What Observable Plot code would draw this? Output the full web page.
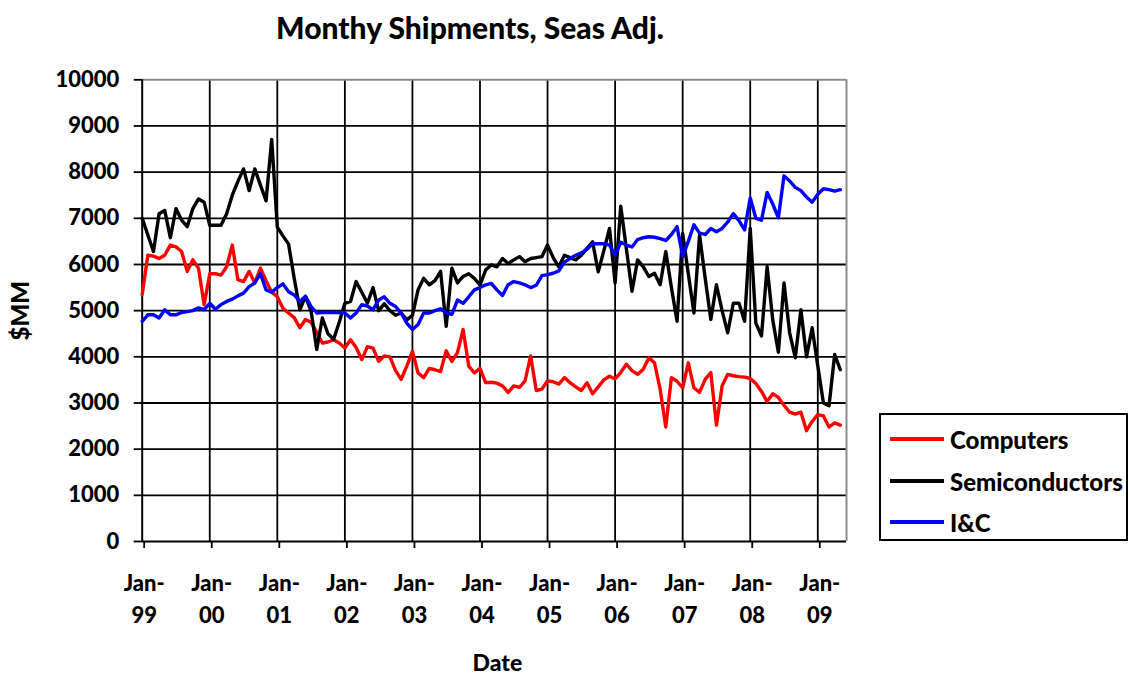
<!DOCTYPE html>
<html>
<head>
<meta charset="utf-8">
<script src="https://cdn.jsdelivr.net/npm/d3@7"></script>
<script src="https://cdn.jsdelivr.net/npm/@observablehq/plot@0.6"></script>
<style>
  body { margin: 0; background: #fff; font-family: Lato, "Open Sans", sans-serif; }
  #wrap { position: relative; width: 1130px; height: 677px; overflow: hidden; background: #fff; }
  #title { position: absolute; left: 0; top: 0; width: 940px; height: 50px; text-align: center;
           font-weight: 900; font-size: 30px; line-height: 54px; color: #000; }
  #chart { position: absolute; left: 0; top: 50px; }
  #legend { position: absolute; left: 879px; top: 413px; width: 249px; height: 128px;
            border: 2px solid #000; box-sizing: border-box; background: #fff; }
  .row { position: absolute; left: 0; height: 30px; display: flex; align-items: center; }
  .sw { width: 54px; height: 3.5px; margin-left: 9px; margin-right: 6px; }
  .lab { font-weight: 900; font-size: 24px; color: #000; white-space: nowrap; }
</style>
</head>
<body>
<div id="wrap">
  <div id="title">Monthy Shipments, Seas Adj.</div>
  <div id="chart"></div>
  <div id="legend"></div>
</div>
<script>
// ---- data (monthly, Jan-99 through May-09) ----
const seriesNames = ["Computers", "Semiconductors", "I&C"];
const seriesColors = ["#ff0000", "#000000", "#0000ff"];

const computers = [
  5350, 6200, 6180, 6130, 6200, 6420, 6380, 6280, 5850, 6100, 5920, 5130,
  5800, 5800, 5770, 5950, 6420, 5670, 5630, 5850, 5600, 5920, 5650, 5400,
  5300, 5050, 4950, 4850, 4630, 4810, 4750, 4530, 4300, 4320, 4370, 4300,
  4190, 4370, 4200, 3940, 4220, 4190, 3900, 4020, 4000, 3700, 3510, 3800,
  4120, 3650, 3550, 3750, 3720, 3680, 4130, 3900, 4090, 4590, 3800, 3650,
  3750, 3440, 3450, 3430, 3370, 3230, 3370, 3340, 3480, 4020, 3270, 3300,
  3480, 3460, 3410, 3550, 3440, 3350, 3270, 3440, 3200, 3350, 3500, 3580,
  3520, 3660, 3840, 3700, 3620, 3730, 3980, 3870, 3300, 2480, 3550, 3470,
  3330, 3870, 3330, 3230, 3510, 3660, 2520, 3370, 3620, 3590, 3570, 3560,
  3530, 3420, 3250, 3030, 3200, 3120, 2950, 2800, 2760, 2800, 2400, 2600,
  2750, 2720, 2480, 2570, 2520
];
const semiconductors = [
  7000, 6640, 6280, 7100, 7170, 6580, 7210, 6960, 6820, 7210, 7420, 7350,
  6850, 6850, 6850, 7100, 7500, 7800, 8070, 7600, 8070, 7720, 7380, 8710,
  6810, 6620, 6440, 5700, 5020, 5310, 4990, 4160, 4840, 4500, 4380, 4750,
  5160, 5200, 5630, 5400, 5160, 5500, 5000, 5150, 5000, 4900, 4950, 4800,
  4900, 5450, 5700, 5560, 5650, 5850, 4660, 5920, 5600, 5740, 5800, 5700,
  5560, 5880, 5990, 5950, 6130, 6020, 6100, 6170, 6060, 6130, 6150, 6170,
  6420, 6150, 5950, 6200, 6150, 6100, 6200, 6350, 6490, 5840, 6300, 6780,
  5600, 7260, 6340, 5420, 6100, 5950, 5740, 5810, 5560, 6280, 5500, 4770,
  6670, 5800, 4950, 6640, 5700, 4810, 5560, 5000, 4520, 5160, 5160, 4770,
  6780, 4730, 4450, 5950, 4800, 4100, 5600, 4520, 3980, 5020, 4000, 4630,
  3800, 3000, 2940, 4050, 3720
];
const ic = [
  4770, 4910, 4910, 4840, 5020, 4910, 4910, 4960, 4980, 5000, 5060, 5020,
  5160, 5030, 5130, 5200, 5250, 5320, 5380, 5520, 5600, 5800, 5450, 5400,
  5500, 5580, 5410, 5340, 5200, 5310, 5090, 4950, 4960, 4960, 4960, 4960,
  4950, 4840, 4950, 5130, 5100, 5020, 5230, 5300, 5160, 5090, 4950, 4730,
  4590, 4700, 4950, 4950, 5000, 5040, 4950, 4920, 5230, 5160, 5300, 5450,
  5500, 5560, 5590, 5450, 5330, 5560, 5630, 5600, 5560, 5500, 5550, 5760,
  5780, 5810, 5860, 6050, 6130, 6200, 6250, 6330, 6450, 6450, 6450, 6420,
  6200, 6480, 6420, 6380, 6540, 6580, 6600, 6590, 6560, 6520, 6650, 6820,
  6170, 6500, 6860, 6680, 6650, 6780, 6710, 6780, 6920, 7100, 6950, 6750,
  7440, 7000, 6960, 7560, 7310, 7010, 7920, 7810, 7670, 7600, 7460, 7350,
  7520, 7640, 7620, 7590, 7620
];

// x tick positions (month index of each January) and their labels
const xTickMonths = [0, 12, 24, 36, 48, 60, 72, 84, 96, 108, 120];
const xTickYears  = ["99", "00", "01", "02", "03", "04", "05", "06", "07", "08", "09"];
const yTicks = [0, 1000, 2000, 3000, 4000, 5000, 6000, 7000, 8000, 9000, 10000];

// ---- build table ----
const allSeries = [computers, semiconductors, ic];
const rows = [];
allSeries.forEach((vals, s) => vals.forEach((v, i) => rows.push({month: i, value: v, series: seriesNames[s]})));

const xMax = 125.1;
const font = "Lato, 'Open Sans', sans-serif";

const chart = Plot.plot({
  width: 1130,
  height: 627,
  marginLeft: 141.7,
  marginRight: 284,
  marginTop: 29.3,
  marginBottom: 136,
  style: {fontFamily: font, fontWeight: 900, fontSize: "22px", color: "#000", background: "#fff", overflow: "visible"},
  x: {type: "linear", domain: [0, xMax]},
  y: {domain: [0, 10000]},
  color: {domain: seriesNames, range: seriesColors},
  marks: [
    // horizontal gridlines
    Plot.ruleY(yTicks.filter(t => t > 0 && t < 10000), {y: d => d, stroke: "#000", strokeWidth: 1.8}),
    // vertical gridlines
    Plot.ruleX(xTickMonths.filter(m => m > 0), {x: d => d, stroke: "#000", strokeWidth: 1.8}),
    // plot area border (top/right gray)
    Plot.ruleY([10000], {stroke: "#8c8c8c", strokeWidth: 2}),
    Plot.ruleX([xMax], {stroke: "#8c8c8c", strokeWidth: 2}),
    // axis lines
    Plot.ruleX([0], {stroke: "#000", strokeWidth: 2}),
    Plot.ruleY([0], {stroke: "#000", strokeWidth: 2}),
    // series
    Plot.line(rows, {x: "month", y: "value", z: "series", stroke: "series", strokeWidth: 3.4,
                     strokeLinejoin: "round", curve: "linear"}),
    // axes
    Plot.axisY({ticks: yTicks, tickSize: 8, tickPadding: 15, label: null,
                tickFormat: d => String(d), strokeWidth: 1.8, fontSize: 22}),
    Plot.axisX({ticks: xTickMonths, tickSize: 7, tickPadding: 20, label: null,
                tickFormat: (d) => "Jan-\n" + xTickYears[xTickMonths.indexOf(d)],
                lineHeight: 1.45, strokeWidth: 1.8, fontSize: 22, dx: 2}),
    // axis titles
    Plot.text(["$MM"], {frameAnchor: "left", textAnchor: "middle", lineAnchor: "middle",
                        rotate: -90, dx: -121, fontSize: 24, fontWeight: 900}),
    Plot.text(["Date"], {frameAnchor: "bottom", dy: 129, dx: 3, fontSize: 23, fontWeight: 900})
  ]
});
document.getElementById("chart").appendChild(chart);

// ---- legend ----
const legend = document.getElementById("legend");
const rowTops = [9, 51, 92];
seriesNames.forEach((name, k) => {
  const r = document.createElement("div");
  r.className = "row";
  r.style.top = rowTops[k] + "px";
  const sw = document.createElement("div");
  sw.className = "sw";
  sw.style.background = seriesColors[k];
  const lab = document.createElement("span");
  lab.className = "lab";
  lab.textContent = name;
  r.appendChild(sw); r.appendChild(lab);
  legend.appendChild(r);
});
</script>
</body>
</html>
